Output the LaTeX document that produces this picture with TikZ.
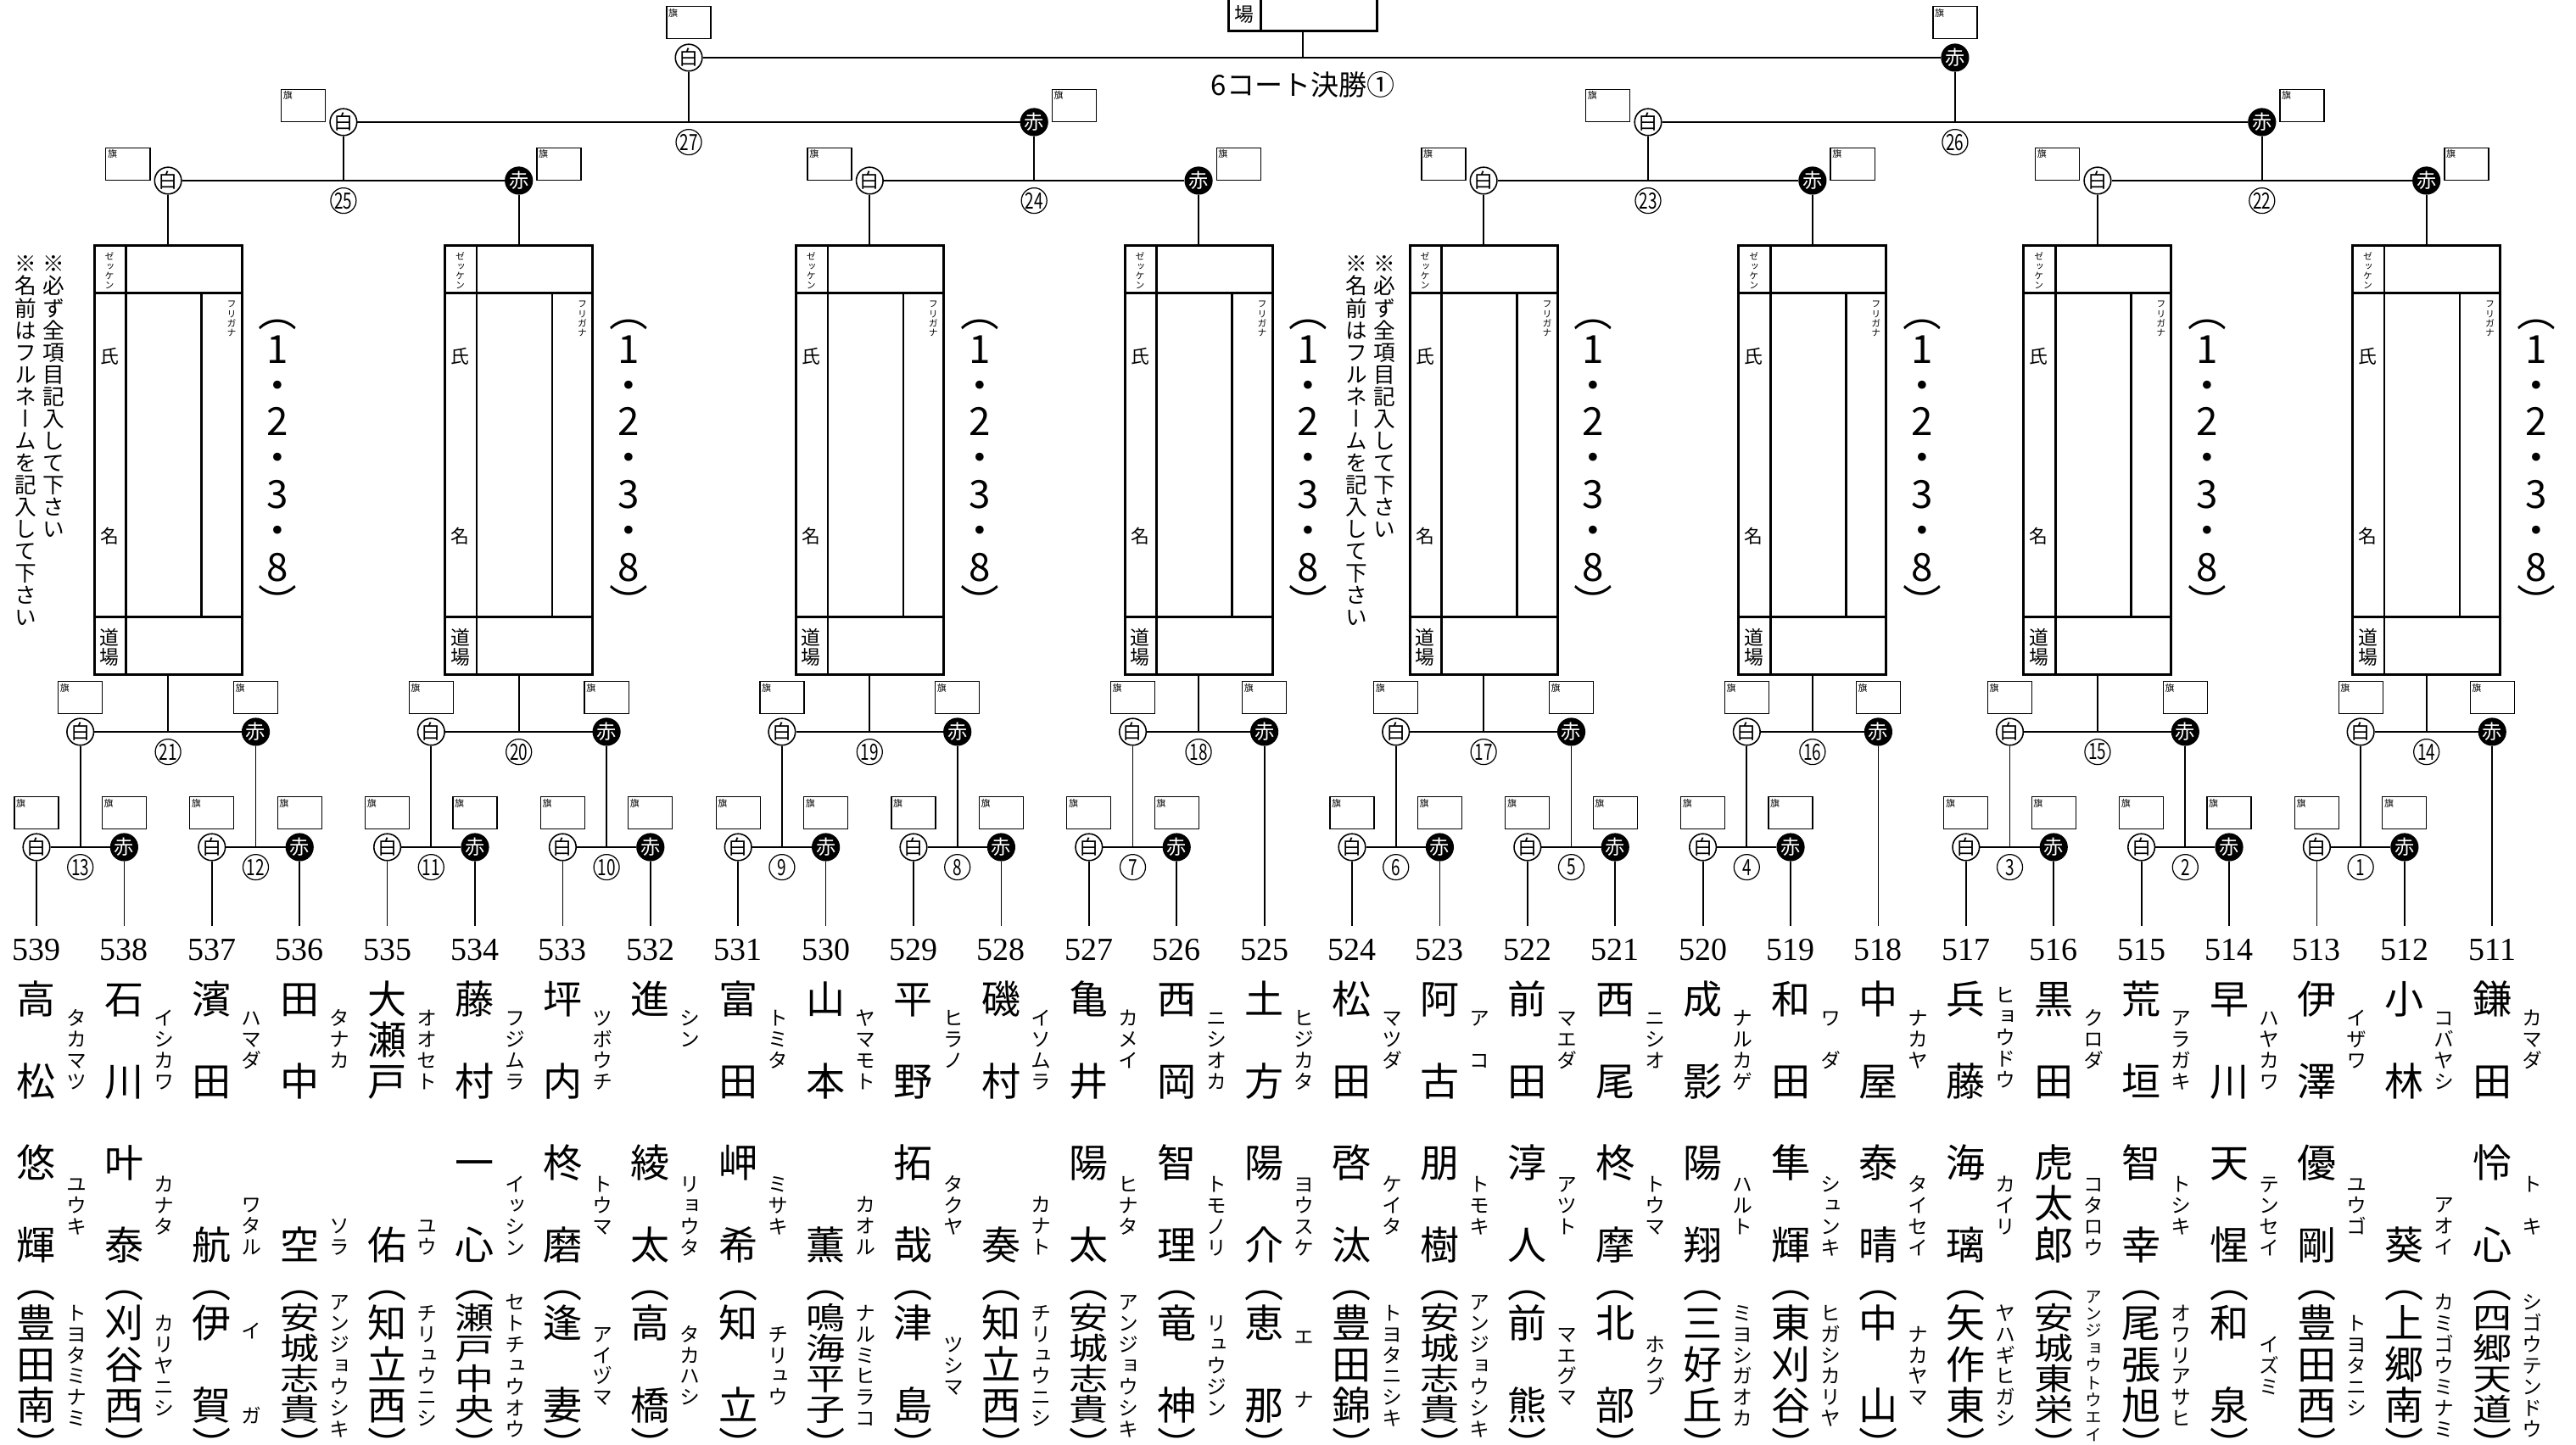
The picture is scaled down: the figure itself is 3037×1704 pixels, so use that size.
\documentclass[tikz,border=0pt]{standalone}
\usepackage{fontspec}
\usepackage{graphicx}
\usetikzlibrary{calc,positioning}
\newfontfamily\jp{Noto Sans CJK JP}
\newfontfamily\vjp[RawFeature=+vert]{Noto Sans CJK JP}
\newfontfamily\numfont{Liberation Serif}

% vertical stack: one character per slot, slot height \vstep
\newdimen\vstep
\def\vchar#1{#1}
\def\vstk#1{\vbox{\offinterlineskip\expandafter\vstkA#1\vend}}
\def\vstkA#1#2\vend{\hbox to\vstep{\vrule height.88\vstep depth.12\vstep width0pt\hss\smash{\vchar{#1}}\hss}\ifx\relax#2\relax\else\vstkA#2\vend\fi}

\newcommand\namaefont{\vjp\fontsize{13.1pt}{13.1pt}\selectfont\vstep=13.8pt}
\newcommand\furifont{\vjp\fontsize{6.8pt}{6.8pt}\selectfont\vstep=7.1pt}
\newcommand\furisfont{\vjp\fontsize{5.6pt}{5.6pt}\selectfont\vstep=5.8pt}
\newcommand\kousfont{\vjp\fontsize{13.1pt}{13.1pt}\selectfont\vstep=10.24pt\def\vchar##1{\scalebox{1}[.78]{##1}}}
\newcommand\kakkofont{\vjp\fontsize{13pt}{13pt}\selectfont\vstep=12.18pt}
\newcommand\chuifont{\vjp\fontsize{7.3pt}{7.3pt}\selectfont\vstep=7.4pt}
\newcommand\komojifont{\vjp\fontsize{3.1pt}{3.1pt}\selectfont\vstep=3.2pt}
\newcommand\dojofont{\vjp\fontsize{6.5pt}{6.5pt}\selectfont\vstep=6.55pt}
\newcommand\maru[1]{\scalebox{.72}[1]{#1}}

\tikzset{
  sen/.style={line width=0.5pt},
  waku/.style={line width=0.7pt},
  shiro/.style={circle,draw,line width=0.45pt,fill=white,minimum size=0.3cm,inner sep=0pt,
    font=\jp\fontsize{6.6pt}{6.6pt}\selectfont},
  aka/.style={shiro,fill=black,text=white},
  bango/.style={circle,draw,line width=0.35pt,minimum size=0.3cm,inner sep=0pt,
    font=\jp\fontsize{7.5pt}{7.5pt}\selectfont},
  hata/.style={draw,line width=0.35pt,minimum width=0.52cm,minimum height=0.38cm,inner sep=0pt,
    label={[anchor=north west,inner sep=0.6pt,font=\jp\fontsize{3.1pt}{3.1pt}\selectfont]north west:旗}},
  kiroku/.style={draw,line width=0.85pt,minimum width=1.74cm,minimum height=5.05cm,inner sep=0pt},
  namae/.style={inner sep=0pt,font=\namaefont},
  kou-s/.style={inner sep=0pt,font=\kousfont},
  furi/.style={inner sep=0pt,font=\furifont},
  furis/.style={inner sep=0pt,font=\furisfont},
  bangou/.style={inner sep=0pt,font=\numfont\fontsize{10.8pt}{10.8pt}\selectfont},
  kakko/.style={inner sep=0pt,font=\kakkofont},
  chui/.style={inner sep=0pt,font=\chuifont},
  komoji/.style={inner sep=0pt,font=\komojifont},
  ranmei/.style={inner sep=0pt,font=\jp\fontsize{6.2pt}{6.2pt}\selectfont},
  dojo/.style={inner sep=0pt,font=\dojofont},
  midashi/.style={inner sep=0pt,font=\jp\fontsize{9.4pt}{9.4pt}\selectfont}
}

% one bout: white and red circles, the bar between them, the bout number
\newcommand\taisen[4]{%
  \node[shiro] (#1-w) at (#2) {白};
  \node[aka] (#1-r) at (#3) {赤};
  \draw[sen] (#1-w) -- (#1-r);
  \coordinate (#1-m) at ($(#1-w)!.5!(#1-r)$);
  \node[bango,below=0.08cm of #1-m] (#1-n) {\maru{#4}};
}

\begin{document}
\begin{tikzpicture}[x=0.01cm,y=-0.01cm]
\useasboundingbox (0,0) rectangle (3037,1704);
\coordinate (lv2) at (0,863);
\coordinate (lvf) at (0,542.5);
\coordinate (lv3) at (0,213);
\coordinate (lv4) at (0,144);
\coordinate (lv5) at (0,68);

% players
\foreach \i/\no/\sei/\sfy/\sfuri/\mei/\mfuri/\ma/\my/\kou/\kst/\kfuri/\ky in {
  0/539/高　松/1187/タカマツ/悠　輝/ユウキ/north/1383/豊田南/n/トヨタミナミ/1610,
  1/538/石　川/1187/イシカワ/叶　泰/カナタ/north/1383/刈谷西/n/カリヤニシ/1610,
  2/537/濱　田/1187/ハマダ/　　航/ワタル/south/1483/伊　賀/n/イ　　　ガ/1619,
  3/536/田　中/1187/タナカ/　　空/ソラ/south/1483/安城志貴/s/アンジョウシキ/1610,
  4/535/大瀬戸/1187/オオセト/　　佑/ユウ/south/1483/知立西/n/チリュウニシ/1610,
  5/534/藤　村/1187/フジムラ/一　心/イッシン/north/1383/瀬戸中央/s/セトチュウオウ/1610,
  6/533/坪　内/1187/ツボウチ/柊　磨/トウマ/north/1383/逢　妻/n/アイヅマ/1610,
  7/532/進/1187/シン/綾　太/リョウタ/north/1383/高　橋/n/タカハシ/1610,
  8/531/富　田/1187/トミタ/岬　希/ミサキ/north/1383/知　立/n/チリュウ/1610,
  9/530/山　本/1187/ヤマモト/　　薫/カオル/south/1483/鳴海平子/s/ナルミヒラコ/1610,
  10/529/平　野/1187/ヒラノ/拓　哉/タクヤ/north/1383/津　島/n/ツシマ/1610,
  11/528/磯　村/1187/イソムラ/　　奏/カナト/south/1483/知立西/n/チリュウニシ/1610,
  12/527/亀　井/1187/カメイ/陽　太/ヒナタ/north/1383/安城志貴/s/アンジョウシキ/1610,
  13/526/西　岡/1187/ニシオカ/智　理/トモノリ/north/1383/竜　神/n/リュウジン/1610,
  14/525/土　方/1187/ヒジカタ/陽　介/ヨウスケ/north/1383/恵　那/n/エ　　ナ/1613,
  15/524/松　田/1187/マツダ/啓　汰/ケイタ/north/1383/豊田錦/n/トヨタニシキ/1610,
  16/523/阿　古/1187/ア　コ/朋　樹/トモキ/north/1383/安城志貴/s/アンジョウシキ/1610,
  17/522/前　田/1187/マエダ/淳　人/アツト/north/1383/前　熊/n/マエグマ/1610,
  18/521/西　尾/1187/ニシオ/柊　摩/トウマ/north/1383/北　部/n/ホクブ/1610,
  19/520/成　影/1187/ナルカゲ/陽　翔/ハルト/north/1383/三好丘/n/ミヨシガオカ/1610,
  20/519/和　田/1187/ワ　ダ/隼　輝/シュンキ/north/1383/東刈谷/n/ヒガシカリヤ/1610,
  21/518/中　屋/1187/ナカヤ/泰　晴/タイセイ/north/1383/中　山/n/ナカヤマ/1610,
  22/517/兵　藤/1160/ヒョウドウ/海　璃/カイリ/north/1383/矢作東/n/ヤハギヒガシ/1610,
  23/516/黒　田/1187/クロダ/虎太郎/コタロウ/north/1383/安城東栄/s/アンジョウトウエイ/1610,
  24/515/荒　垣/1187/アラガキ/智　幸/トシキ/north/1383/尾張旭/n/オワリアサヒ/1610,
  25/514/早　川/1187/ハヤカワ/天　惺/テンセイ/north/1383/和　泉/n/イズミ/1610,
  26/513/伊　澤/1187/イザワ/優　剛/ユウゴ/north/1383/豊田西/n/トヨタニシ/1610,
  27/512/小　林/1187/コバヤシ/　　葵/アオイ/south/1483/上郷南/n/カミゴウミナミ/1610,
  28/511/鎌　田/1187/カマダ/怜　心/ト　キ/north/1383/四郷天道/s/シゴウテンドウ/1610}{
  \pgfmathsetmacro\xx{43+103.4*\i}
  \coordinate (x\no) at (\xx,999);
  \coordinate (t\no) at (\xx,1092);
  \node[bangou] (p\no) at (\xx,1120) {\no};
  \node[namae,anchor=north] (sei\no) at (\xx,1152) {\vstk{\sei}};
  \node[furi,anchor=north] (sf\no) at (\xx+47,\sfy) {\vstk{\sfuri}};
  \node[namae,anchor=north] (mei\no) at (\xx,1345) {\vstk{\mei}};
  \node[furi,anchor=\ma] (mf\no) at (\xx+47,\my) {\vstk{\mfuri}};
  \node[namae] (ka\no) at (\xx,1512) {\vstk{︵}};
  \node[namae] (kb\no) at (\xx,1704) {\vstk{︶}};
  \if s\kst
    \node[kou-s] (k\no) at (\xx,1608) {\vstk{\kou}};
  \else
    \node[namae] (k\no) at (\xx,1608) {\vstk{\kou}};
  \fi
  \ifnum\no=516\relax
    \node[furis] (kf\no) at (\xx+47,\ky) {\vstk{\kfuri}};
  \else
    \node[furi] (kf\no) at (\xx+47,\ky) {\vstk{\kfuri}};
  \fi
}

% first round
\foreach \m/\a/\b/\n in {m13/539/538/13, m12/537/536/12, m11/535/534/11, m10/533/532/10,
    m9/531/530/9, m8/529/528/8, m7/527/526/7, m6/524/523/6, m5/522/521/5, m4/520/519/4,
    m3/517/516/3, m2/515/514/2, m1/513/512/1}{
  \taisen{\m}{x\a}{x\b}{\n}
  \draw[sen] (\m-w) -- (t\a);
  \draw[sen] (\m-r) -- (t\b);
}

% second round
\foreach \m/\a/\b/\n in {m21/m13/m12/21, m20/m11/m10/20, m19/m9/m8/19, m17/m6/m5/17, m15/m3/m2/15}{
  \taisen{\m}{\a-m |- lv2}{\b-m |- lv2}{\n}
  \draw[sen] (\a-m) -- (\m-w);
  \draw[sen] (\b-m) -- (\m-r);
}
\foreach \m/\a/\b/\n in {m18/m7/525/18, m16/m4/518/16, m14/m1/511/14}{
  \taisen{\m}{\a-m |- lv2}{x\b |- lv2}{\n}
  \draw[sen] (\a-m) -- (\m-w);
  \draw[sen] (\m-r) -- (t\b);
}
\foreach \k in {1,...,21}{
  \node[hata,above=0.04cm of m\k-w] (m\k-wh) {};
  \node[hata,above=0.04cm of m\k-r] (m\k-rh) {};
}

% entry forms
\foreach \s in {14,...,21}{
  \node[kiroku] (f\s) at (m\s-m |- lvf) {};
  \draw[sen] (m\s-m) -- (f\s);
  \draw[waku] ($(f\s.north west)+(0,57)$) -- ($(f\s.north east)+(0,57)$);
  \draw[waku] ($(f\s.south west)+(0,-69)$) -- ($(f\s.south east)+(0,-69)$);
  \draw[waku] ($(f\s.north west)+(39,0)$) -- ($(f\s.south west)+(39,0)$);
  \draw[waku] ($(f\s.north west)+(128,57)$) -- ($(f\s.south west)+(128,-69)$);
  \node[komoji,anchor=north] (f\s-zk) at ($(f\s.north west)+(19.5,8)$) {\vstk{ゼッケン}};
  \node[komoji,anchor=north] (f\s-fg) at ($(f\s.north west)+(163.5,64)$) {\vstk{フリガナ}};
  \node[ranmei] (f\s-shi) at ($(f\s.north west)+(19.5,132)$) {氏};
  \node[ranmei] (f\s-mei) at ($(f\s.north west)+(19.5,344)$) {名};
  \node[dojo,anchor=north] (f\s-do) at ($(f\s.south west)+(19.5,-57)$) {\vstk{道場}};
  \node[kakko,anchor=north] (f\s-kk) at ($(f\s.north east)+(41,58.6)$) {\vstk{︵1・2・3・8︶}};
}
\node[chui,anchor=north] (chui1a) at ($(f21.north west)+(-46,9)$) {\vstk{※必ず全項目記入して下さい}};
\node[chui,anchor=north] (chui1b) at ($(f21.north west)+(-79,9)$) {\vstk{※名前はフルネームを記入して下さい}};
\node[chui,anchor=north] (chui2a) at ($(f17.north west)+(-28,9)$) {\vstk{※必ず全項目記入して下さい}};
\node[chui,anchor=north] (chui2b) at ($(f17.north west)+(-61,9)$) {\vstk{※名前はフルネームを記入して下さい}};

% third and fourth rounds
\foreach \m/\a/\b/\n in {m25/21/20/25, m24/19/18/24, m23/17/16/23, m22/15/14/22}{
  \taisen{\m}{f\a.north |- lv3}{f\b.north |- lv3}{\n}
  \draw[sen] (f\a) -- (\m-w);
  \draw[sen] (f\b) -- (\m-r);
}
\foreach \m/\a/\b/\n in {m27/m25/m24/27, m26/m23/m22/26}{
  \taisen{\m}{\a-m |- lv4}{\b-m |- lv4}{\n}
  \draw[sen] (\a-m) -- (\m-w);
  \draw[sen] (\b-m) -- (\m-r);
}
\foreach \k in {22,...,27}{
  \node[hata,left=0.04cm of m\k-w.west,anchor=south east] (m\k-wh) {};
  \node[hata,right=0.04cm of m\k-r.east,anchor=south west] (m\k-rh) {};
}

% final
\node[shiro] (fin-w) at (m27-m |- lv5) {白};
\node[aka] (fin-r) at (m26-m |- lv5) {赤};
\draw[sen] (fin-w) -- (fin-r);
\draw[sen] (m27-m) -- (fin-w);
\draw[sen] (m26-m) -- (fin-r);
\node[hata,above=0.05cm of fin-w] (fin-wh) {};
\node[hata,above=0.05cm of fin-r] (fin-rh) {};
\node[kiroku,anchor=south] (yusho) at (1536,38) {};
\draw[waku] ($(yusho.north west)+(39,0)$) -- ($(yusho.south west)+(39,0)$);
\node[dojo] (yusho-ba) at ($(yusho.south west)+(19.5,-21)$) {場};
\draw[sen] (yusho) -- (yusho |- lv5);
\node[midashi] (kessho) at (1536,100) {6コート決勝①};
\end{tikzpicture}
\end{document}
